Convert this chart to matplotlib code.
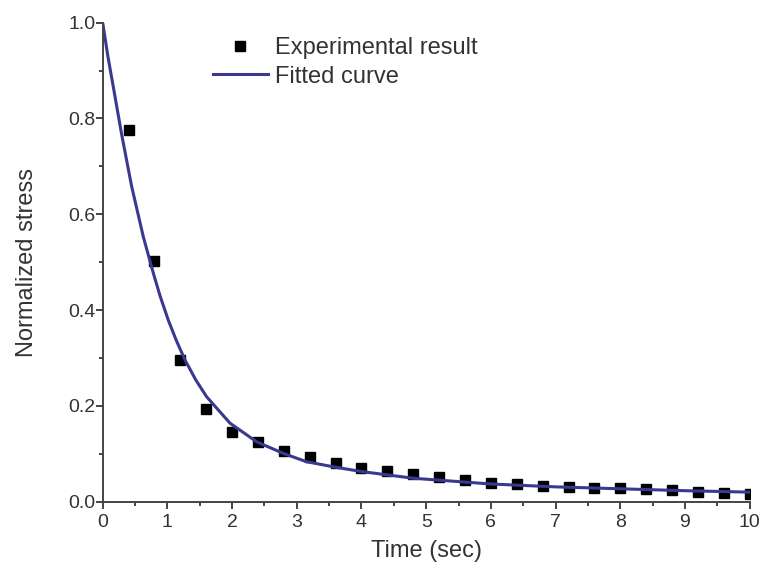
import numpy as np
import matplotlib.pyplot as plt
from matplotlib.ticker import MultipleLocator

plt.rcParams['font.family'] = ['Liberation Sans', 'DejaVu Sans']

# measured relaxation points (time in sec, normalized stress)
t_exp = [0.4, 0.8, 1.2, 1.6, 2.0, 2.4, 2.8, 3.2, 3.6, 4.0, 4.4, 4.8, 5.2,
         5.6, 6.0, 6.4, 6.8, 7.2, 7.6, 8.0, 8.4, 8.8, 9.2, 9.6, 10.0]
s_exp = [0.776, 0.502, 0.295, 0.193, 0.146, 0.124, 0.106, 0.093, 0.081,
         0.071, 0.064, 0.057, 0.051, 0.045, 0.040, 0.037, 0.033, 0.031,
         0.029, 0.028, 0.026, 0.024, 0.020, 0.018, 0.016]

# fitted curve samples
t_fit = [0.0, 0.08, 0.164, 0.294, 0.448, 0.628, 0.783, 0.886, 1.014, 1.14,
         1.272, 1.44, 1.607, 1.968, 2.38, 2.79, 3.15, 3.6, 4.0, 4.8, 6.0,
         7.0, 8.0, 9.0, 10.0]
s_fit = [1.0, 0.930, 0.866, 0.766, 0.658, 0.553, 0.477, 0.430, 0.379,
         0.336, 0.296, 0.254, 0.219, 0.164, 0.125, 0.101, 0.0835, 0.072,
         0.063, 0.049, 0.037, 0.031, 0.027, 0.023, 0.020]

fig = plt.figure(figsize=(7.59, 5.73), dpi=100)
ax = fig.add_axes([0.1353, 0.1244, 0.8524, 0.836])

ax.plot(t_exp, s_exp, 's', color='black', markersize=7.5, label='Experimental result')
ax.plot(t_fit, s_fit, '-', color='#3b3890', linewidth=2.2, label='Fitted curve',
        solid_joinstyle='round')

ax.set_xlim(0, 10)
ax.set_ylim(0, 1.0)
ax.xaxis.set_major_locator(MultipleLocator(1))
ax.xaxis.set_minor_locator(MultipleLocator(0.5))
ax.yaxis.set_major_locator(MultipleLocator(0.2))
ax.yaxis.set_minor_locator(MultipleLocator(0.1))
ax.yaxis.set_major_formatter(plt.FormatStrFormatter('%.1f'))

for side in ['top', 'right']:
    ax.spines[side].set_visible(False)
for side in ['left', 'bottom']:
    ax.spines[side].set_color('#444444')
    ax.spines[side].set_linewidth(1.4)

ax.tick_params(which='major', direction='out', length=5, width=1.4,
               color='#444444', labelsize=14, labelcolor='#333333')
ax.tick_params(which='minor', direction='out', length=3, width=1.4,
               color='#444444')
ax.tick_params(axis='x', which='major', pad=4)
ax.tick_params(axis='y', which='major', pad=0)

ax.set_xlabel('Time (sec)', fontsize=17, color='#333333', labelpad=6)
ax.set_ylabel('Normalized stress', fontsize=17, color='#333333', labelpad=22)

ax.legend(loc='upper left', bbox_to_anchor=(0.152, 0.995), frameon=False,
          fontsize=17, handlelength=2.33, handletextpad=0.3, labelspacing=0.28,
          borderpad=0, labelcolor='#333333')

fig.savefig('out.png', dpi=100)
